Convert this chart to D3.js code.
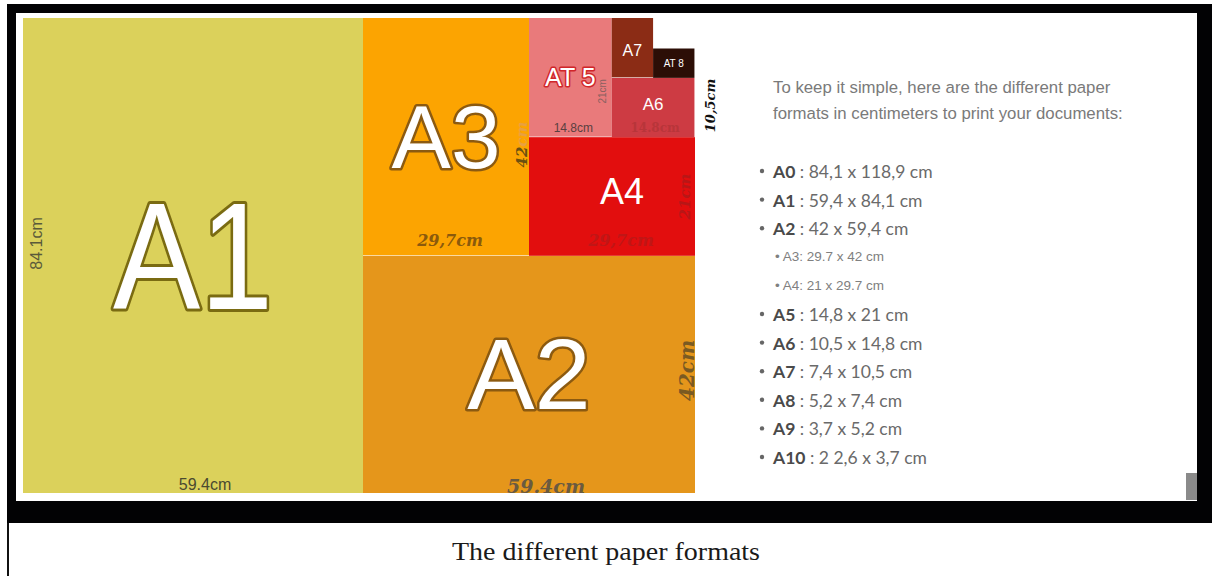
<!DOCTYPE html>
<html>
<head>
<meta charset="utf-8">
<script src="https://cdn.jsdelivr.net/npm/d3@7"></script>
<style>
  body { margin: 0; background: #fff; }
  svg { display: block; }
</style>
</head>
<body>
<svg id="chart" width="1212" height="576"></svg>
<script>
// sheet sizes (cm), A1 .. A8, width x height as drawn
var sheetNames = ['A1', 'A2', 'A3', 'A4', 'A5', 'A6', 'A7', 'A8'];
var sheetWidths = [59.4, 59.4, 29.7, 29.7, 14.8, 14.8, 7.4, 7.4];
var sheetHeights = [84.1, 42, 42, 21, 21, 10.5, 10.5, 5.2];
var sheetTitles = ['A1', 'A2', 'A3', 'A4', 'AT 5', 'A6', 'A7', 'AT 8'];

// dimension notes written on the sheets
var noteSheets = ['A1', 'A1', 'A2', 'A2', 'A3', 'A3', 'A4', 'A4', 'A5', 'A5', 'A6', 'A6'];
var noteSides = ['left', 'bottom', 'right', 'bottom', 'right', 'bottom', 'right', 'bottom', 'right', 'bottom', 'outside', 'bottom'];
var noteTexts = ['84.1cm', '59.4cm', '42cm', '59.4cm', '42cm', '29,7cm', '21cm', '29,7cm', '21cm', '14.8cm', '10,5cm', '14.8cm'];

// the list on the right
var formatNames = ['A0', 'A1', 'A2', 'A3', 'A4', 'A5', 'A6', 'A7', 'A8', 'A9', 'A10'];
var formatSizes = ['84,1 x 118,9 cm', '59,4 x 84,1 cm', '42 x 59,4 cm', '29.7 x 42 cm', '21 x 29.7 cm',
  '14,8 x 21 cm', '10,5 x 14,8 cm', '7,4 x 10,5 cm', '5,2 x 7,4 cm', '3,7 x 5,2 cm', '2 2,6 x 3,7 cm'];
var smallFormats = ['A3', 'A4'];

var introLines = ['To keep it simple, here are the different paper',
  'formats in centimeters to print your documents:'];
var caption = 'The different paper formats';

var colors = {
  A1: '#dbd15b', A2: '#e5961b', A3: '#fca401', A4: '#e20e0e',
  A5: '#e97a7b', A6: '#cd3b43', A7: '#8b2c15', A8: '#2c0e06'
};

var svg = d3.select('#chart');

// frame
svg.append('rect').attr('x', 7).attr('y', 4).attr('width', 1205).attr('height', 519).attr('fill', '#020204');
svg.append('rect').attr('x', 16).attr('y', 13).attr('width', 1181).attr('height', 488).attr('fill', '#fff');
svg.append('rect').attr('x', 1186).attr('y', 473).attr('width', 11).attr('height', 27).attr('fill', '#8a8a8a');
svg.append('rect').attr('x', 7).attr('y', 523).attr('width', 2).attr('height', 53).attr('fill', '#111');

// lay the sheets out: portrait ones go to the left, landscape ones to the bottom
var totalW = sheetWidths[0] + sheetWidths[1];
var free = { x0: 0, y0: 0, x1: totalW, y1: sheetHeights[0] };
var sheets = sheetNames.map(function(name, i) {
  var w = sheetWidths[i], h = sheetHeights[i], s;
  if (h > w) {
    s = { x: free.x0, y: free.y0 };
    free.x0 += w;
  } else {
    s = { x: free.x0, y: free.y1 - h };
    free.y1 -= h;
  }
  s.name = name; s.w = w; s.h = h; s.title = sheetTitles[i];
  return s;
});

// the photo is not quite to scale: A1 is drawn a little wider than A2
var x = d3.scaleLinear().domain([0, sheetWidths[0], totalW]).range([23, 363, 695]);
var y = d3.scaleLinear().domain([0, sheetHeights[0]]).range([18, 493]);

svg.append('g')
  .selectAll('rect')
  .data(sheets)
  .enter()
  .append('rect')
  .attr('x', function(d) { return x(d.x); })
  .attr('y', function(d) { return y(d.y); })
  .attr('width', function(d) { return x(d.x + d.w) - x(d.x); })
  .attr('height', function(d) { return y(d.y + d.h) - y(d.y); })
  .attr('fill', function(d) { return colors[d.name]; });

// big titles
var titleStyle = {
  A1: { size: 152, fill: '#fff', stroke: '#7a6b12', sw: 6, len: 160 },
  A2: { size: 101, fill: '#fff', stroke: '#8c5a10', sw: 5 },
  A3: { size: 89, fill: '#fff', stroke: '#8c5a10', sw: 5 },
  A4: { size: 36, fill: '#fff', stroke: 'none', sw: 0, dx: 10, dy: -5 },
  A5: { size: 25, fill: '#fff', stroke: '#d0262a', sw: 3 },
  A6: { size: 17, fill: '#fff', stroke: 'none', sw: 0, dy: -3 },
  A7: { size: 16, fill: '#fff', stroke: 'none', sw: 0, dy: 3 },
  A8: { size: 10, fill: '#fff', stroke: 'none', sw: 0 }
};

svg.append('g')
  .selectAll('text')
  .data(sheets)
  .enter()
  .append('text')
  .attr('x', function(d) { return x(d.x + d.w / 2) + (titleStyle[d.name].dx || 0); })
  .attr('y', function(d) { return y(d.y + d.h / 2) + (titleStyle[d.name].dy || 0); })
  .attr('text-anchor', 'middle')
  .attr('dominant-baseline', 'central')
  .attr('font-family', 'Liberation Sans, Arial, sans-serif')
  .attr('font-size', function(d) { return titleStyle[d.name].size; })
  .attr('textLength', function(d) { return titleStyle[d.name].len || null; })
  .attr('lengthAdjust', 'spacingAndGlyphs')
  .attr('fill', function(d) { return titleStyle[d.name].fill; })
  .attr('stroke', function(d) { return titleStyle[d.name].stroke; })
  .attr('stroke-width', function(d) { return titleStyle[d.name].sw; })
  .attr('stroke-linejoin', 'round')
  .attr('paint-order', 'stroke')
  .text(function(d) { return d.title; });

// dimension notes
var sans = 'Liberation Sans, Arial, sans-serif';
var serif = 'DejaVu Serif, serif';
var noteStyle = [
  { font: sans, size: 16, fill: '#5a5a3a', dx: 13, dy: -12 },
  { font: sans, size: 16, fill: '#4a4a30', dx: 12, dy: -9 },
  { font: serif, size: 20, fill: '#7a5a22', dx: -8, dy: -4, bold: true, italic: true },
  { font: serif, size: 19, fill: '#6a5a40', dx: 17, dy: -7, bold: true, italic: true },
  { font: serif, size: 15, fill: '#6b5010', dx: -7, dy: 8, bold: true, italic: true, fade: true },
  { font: serif, size: 16, fill: '#8a5a0c', dx: 4, dy: -15, bold: true, italic: true },
  { font: serif, size: 15, fill: '#b81616', dx: -10, dy: 0, bold: true, italic: true },
  { font: serif, size: 16, fill: '#c01616', dx: 9, dy: -15, bold: true, italic: true },
  { font: sans, size: 10, fill: '#8a6060', dx: -9, dy: 14 },
  { font: sans, size: 12, fill: '#5a4040', dx: 3, dy: -9 },
  { font: serif, size: 13, fill: '#111', dx: 16, dy: -2, bold: true, italic: true },
  { font: serif, size: 12, fill: '#b8353a', dx: 2, dy: -9, bold: true }
];

var sheetByName = {};
sheets.forEach(function(s) { sheetByName[s.name] = s; });

noteTexts.forEach(function(t, i) {
  var s = sheetByName[noteSheets[i]], side = noteSides[i], st = noteStyle[i];
  var px, py, rot = 0;
  if (side === 'bottom') {
    px = x(s.x + s.w / 2) + st.dx;
    py = y(s.y + s.h) + st.dy;
  } else if (side === 'left') {
    px = x(s.x) + st.dx;
    py = y(s.y + s.h / 2) + st.dy;
    rot = -90;
  } else {
    px = x(s.x + s.w) + st.dx;
    py = y(s.y + s.h / 2) + st.dy;
    rot = -90;
  }
  var txt = svg.append('text')
    .attr('transform', 'translate(' + px + ',' + py + ') rotate(' + rot + ')')
    .attr('text-anchor', 'middle')
    .attr('dominant-baseline', 'central')
    .attr('font-family', st.font)
    .attr('font-size', st.size)
    .attr('font-weight', st.bold ? 'bold' : 'normal')
    .attr('font-style', st.italic ? 'italic' : 'normal')
    .attr('fill', st.fill);
  if (st.fade) {
    txt.append('tspan').text(t.slice(0, 2));
    txt.append('tspan').attr('fill', '#e8a040').text(t.slice(2));
  } else {
    txt.text(t);
  }
});

// intro text
svg.append('g')
  .selectAll('text')
  .data(introLines)
  .enter()
  .append('text')
  .attr('x', 773)
  .attr('y', function(d, i) { return 87 + i * 26; })
  .attr('dominant-baseline', 'central')
  .attr('font-family', sans)
  .attr('font-size', 16.8)
  .attr('fill', '#7a7a7a')
  .text(function(d) { return d; });

// the list
var rowY = d3.scaleLinear().domain([0, formatNames.length - 1]).range([171, 457]);

formatNames.forEach(function(name, i) {
  var small = smallFormats.indexOf(name) >= 0;
  if (small) {
    svg.append('text')
      .attr('x', 775)
      .attr('y', rowY(i))
      .attr('dominant-baseline', 'central')
      .attr('font-family', sans)
      .attr('font-size', 13.5)
      .attr('fill', '#808080')
      .text('\u2022 ' + name + ': ' + formatSizes[i]);
    return;
  }
  svg.append('circle')
    .attr('cx', 762)
    .attr('cy', rowY(i))
    .attr('r', 2.2)
    .attr('fill', '#666');
  var t = svg.append('text')
    .attr('x', 773)
    .attr('y', rowY(i))
    .attr('dominant-baseline', 'central')
    .attr('font-family', 'Lato, Open Sans, sans-serif')
    .attr('font-size', 17.5)
    .attr('fill', '#6a6a6a');
  t.append('tspan').attr('font-weight', 'bold').attr('fill', '#4a4a4a').text(name);
  t.append('tspan').text(' : ' + formatSizes[i]);
});

// caption
svg.append('text')
  .attr('x', 606)
  .attr('y', 551)
  .attr('text-anchor', 'middle')
  .attr('dominant-baseline', 'central')
  .attr('font-family', 'Liberation Serif, serif')
  .attr('font-size', 26)
  .attr('textLength', 308)
  .attr('lengthAdjust', 'spacingAndGlyphs')
  .attr('fill', '#1a1a1a')
  .text(caption);
</script>
</body>
</html>
